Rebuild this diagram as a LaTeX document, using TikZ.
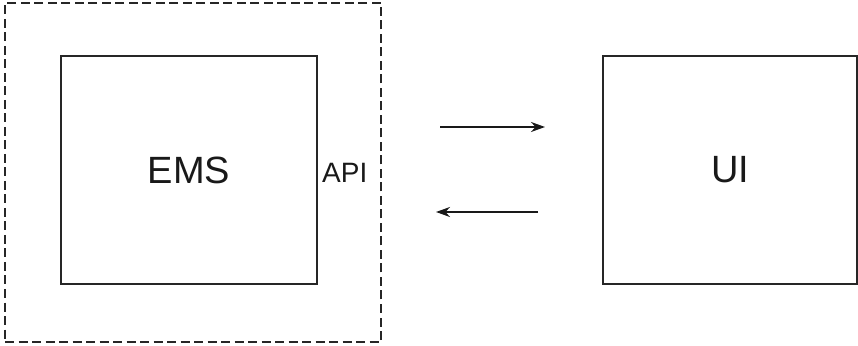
\documentclass[tikz,border=0pt]{standalone}
\usepackage{fontspec}
\setmainfont{Liberation Sans}
\usetikzlibrary{arrows.meta}
\begin{document}
\begin{tikzpicture}[x=1pt,y=1pt,
  blockbox/.style={draw=black!85,line width=2.2pt,minimum width=256pt,minimum height=228pt,inner sep=0pt,font=\fontsize{38}{46}\selectfont,text=black!90},
  outerbox/.style={draw=black!85,line width=2pt,dash pattern=on 9pt off 4.5pt},
  flow/.style={draw=black!90,line width=2pt,-{Stealth[length=14pt,width=10pt]}}]
\useasboundingbox (0,0) rectangle (858,345);
\node[outerbox,minimum width=376pt,minimum height=339pt,inner sep=0pt] (outer) at (193,172.5) {};
\node[blockbox] (ems) at (189,175) {EMS\hspace{10pt}};
\node[blockbox,minimum width=254pt] (ui) at (730,175) {UI\hspace{4pt}};
\node[font=\fontsize{28}{34}\selectfont,text=black!90,anchor=west,inner sep=0pt] (api) at (322,172) {API};
\coordinate (a1) at (440,218);
\coordinate (a2) at (545,218);
\coordinate (b1) at (538,133);
\coordinate (b2) at (436,133);
\draw[flow] (a1) -- (a2);
\draw[flow] (b1) -- (b2);
\end{tikzpicture}
\end{document}
